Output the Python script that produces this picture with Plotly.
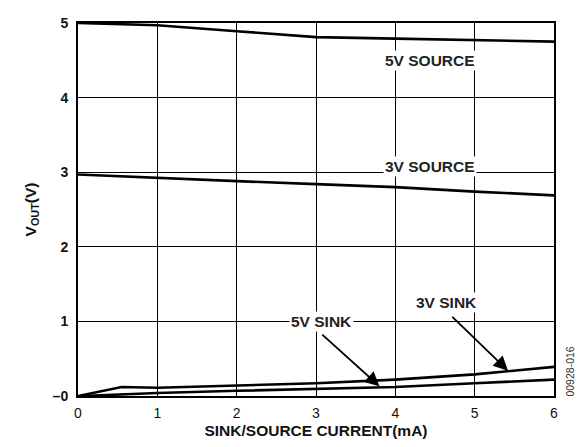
import plotly.graph_objects as go

x_src = [0, 1, 2, 3, 4, 5, 6]
y_5v_source = [5.00, 4.97, 4.89, 4.81, 4.79, 4.77, 4.75]
y_3v_source = [2.97, 2.93, 2.88, 2.84, 2.80, 2.74, 2.69]

x_3v_sink = [0, 0.55, 1, 2, 3, 4, 5, 6]
y_3v_sink = [0.00, 0.12, 0.11, 0.14, 0.17, 0.22, 0.29, 0.39]

x_5v_sink = [0.05, 1, 2, 3, 4, 5, 6]
y_5v_sink = [0.00, 0.04, 0.07, 0.09, 0.12, 0.17, 0.22]

x_ticks = [0, 1, 2, 3, 4, 5, 6]
y_ticks = [0, 1, 2, 3, 4, 5]
y_ticktext = ["\u20130", "1", "2", "3", "4", "5"]

font_family = "Liberation Sans, Arial, sans-serif"
line_style = dict(color="black", width=2.6)

fig = go.Figure()
for xs, ys in [(x_src, y_5v_source), (x_src, y_3v_source),
               (x_3v_sink, y_3v_sink), (x_5v_sink, y_5v_sink)]:
    fig.add_trace(go.Scatter(x=xs, y=ys, mode="lines", line=line_style,
                             showlegend=False, hoverinfo="skip"))

label_font = dict(family=font_family, size=15.5, color="#222")
labels = [
    ("<b>5V SOURCE</b>", 4.44, 4.50),
    ("<b>3V SOURCE</b>", 4.44, 3.08),
    ("<b>5V SINK</b>", 3.07, 1.00),
    ("<b>3V SINK</b>", 4.64, 1.25),
]
for txt, lx, ly in labels:
    fig.add_annotation(x=lx, y=ly, text=txt, showarrow=False, font=label_font,
                       bgcolor="white", borderpad=1)

arrows = [
    (3.80, 0.13, 3.06, 0.84),
    (5.42, 0.34, 4.70, 1.08),
]
for hx, hy, tx, ty in arrows:
    fig.add_annotation(x=hx, y=hy, ax=tx, ay=ty, axref="x", ayref="y",
                       text="", showarrow=True, arrowhead=2, arrowsize=1.6,
                       arrowwidth=1.8, arrowcolor="black")

fig.add_annotation(xref="paper", yref="paper", x=1.034, y=0.066,
                   xanchor="center", yanchor="middle",
                   text="00928-016", textangle=-90, showarrow=False,
                   font=dict(family=font_family, size=10.5, color="#333"))

tick_font = dict(family=font_family, size=14, color="#111")
title_font = dict(family=font_family, size=15.5, color="#111")
axis_common = dict(showline=True, linecolor="black", linewidth=2, mirror=True,
                   showgrid=True, gridcolor="black", gridwidth=1.3,
                   zeroline=False, ticks="", tickfont=tick_font)

fig.update_xaxes(range=[0, 6], tickvals=x_ticks, ticklabelstandoff=3,
                 title=dict(text="<b>SINK/SOURCE CURRENT(mA)</b>", standoff=5,
                            font=title_font),
                 tickprefix="<b>", ticksuffix="</b>", **axis_common)
fig.update_yaxes(range=[0, 5], tickvals=y_ticks, ticklabelstandoff=5,
                 ticktext=["<b>" + t + "</b>" for t in y_ticktext],
                 title=dict(text="<b>V<sub>OUT</sub>(V)</b>", standoff=12,
                            font=title_font),
                 **axis_common)

# page body adds an 8px offset, so margins are shifted to compensate
fig.update_layout(width=584, height=447,
                  margin=dict(l=70, r=38, t=7, b=59),
                  paper_bgcolor="white", plot_bgcolor="white",
                  font=dict(family=font_family))

fig.write_html("out.html")
